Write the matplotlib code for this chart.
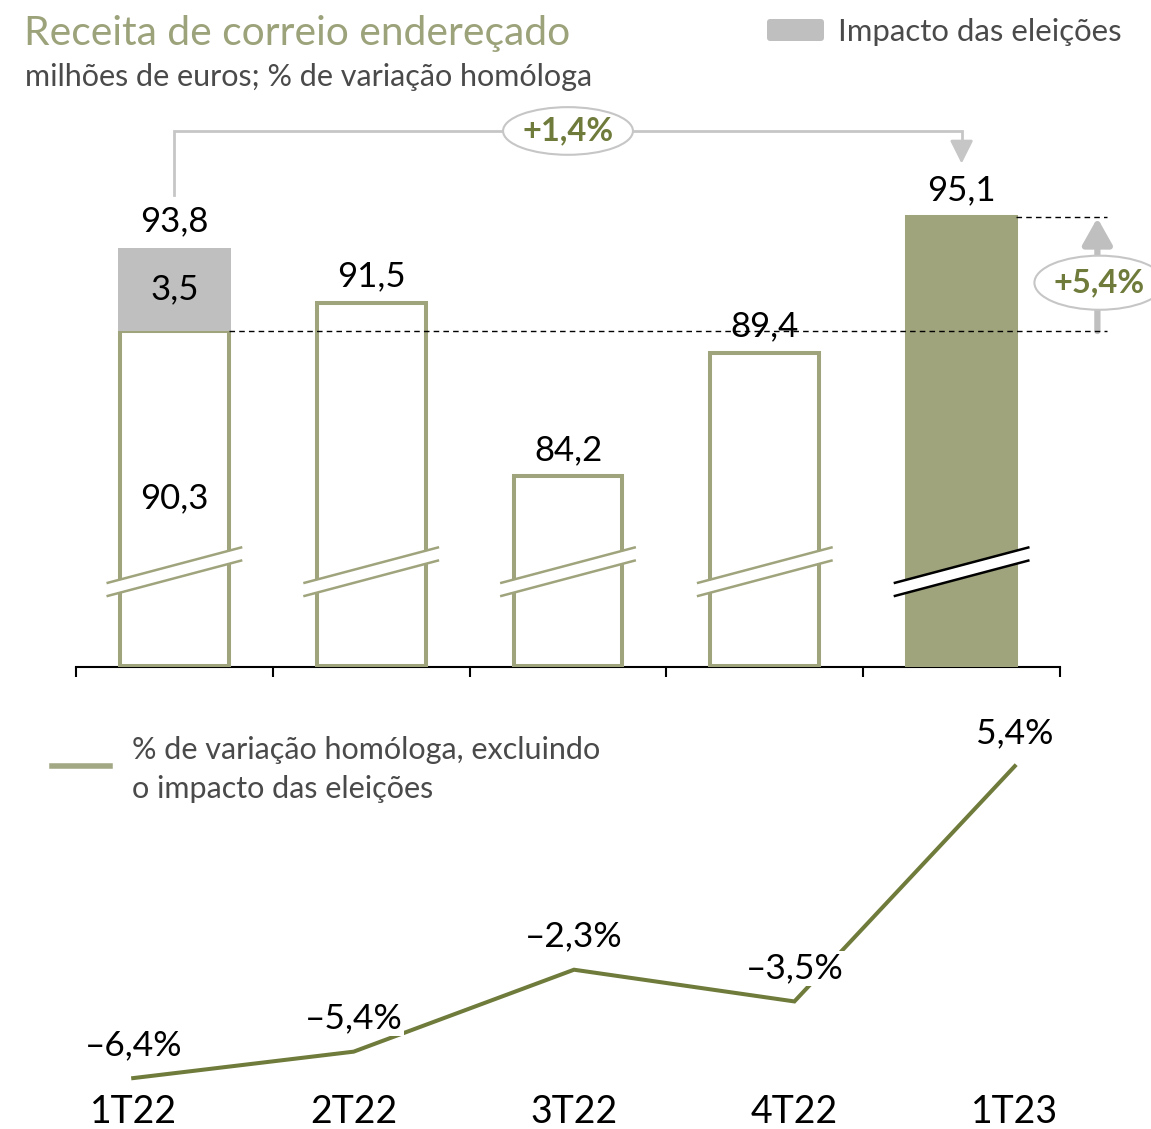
import matplotlib.pyplot as plt
import matplotlib.patches as mpatches
from matplotlib.lines import Line2D
import numpy as np

# --- Data ---
QUARTERS = ['1T22', '2T22', '3T22', '4T22', '1T23']
REVENUE = [93.8, 91.5, 84.2, 89.4, 95.1]          # milhões de euros
ELECTION_IMPACT = [3.5, 0.0, 0.0, 0.0, 0.0]       # impacto das eleições
YOY_EXCL_ELECTIONS = [-6.4, -5.4, -2.3, -3.5, 5.4]  # % variação homóloga
TOTAL_GROWTH = '+1,4%'
EXCL_GROWTH = '+5,4%'

# --- Style ---
OLIVE = '#A0A47C'
OLIVE_DARK = '#6E7B3B'
TITLE_COLOR = '#9CA27A'
GRAY = '#BFBFBF'
GRAY_LINE = '#C6C6C6'
TEXT_GRAY = '#4A4A4A'
LEGEND_LINE = '#A3A884'

W, H = 1151, 1129


def fx(px):
    return px / W


def fy(py):
    return 1 - py / H


def fmt(v, pct=False):
    s = f"{abs(v):.1f}".replace('.', ',')
    if v < 0:
        s = '\u2013' + s
    return s + ('%' if pct else '')


plt.rcParams['font.family'] = ['Lato', 'DejaVu Sans']

fig = plt.figure(figsize=(W / 100, H / 100), dpi=100)

# --- Header ---
fig.text(fx(24), fy(45), 'Receita de correio endereçado', fontsize=29.3,
         color=TITLE_COLOR, va='baseline', ha='left')
fig.text(fx(25), fy(86), 'milhões de euros; % de variação homóloga',
         fontsize=22, color=TEXT_GRAY, va='baseline', ha='left')
fig.patches.append(mpatches.FancyBboxPatch(
    (fx(767), fy(41)), fx(824) - fx(767), fy(19) - fy(41),
    boxstyle='round,pad=0,rounding_size=0.003', transform=fig.transFigure,
    facecolor=GRAY, edgecolor='none'))
fig.text(fx(838), fy(32), 'Impacto das eleições', fontsize=22.4,
         color=TEXT_GRAY, va='center', ha='left')

# --- Top panel: bars (truncated axis) ---
Y_BASE = 76.2
BAR_W = 0.553
ax = fig.add_axes([fx(76), fy(667), fx(1060) - fx(76), fy(100) - fy(667)])
ax.set_xlim(-0.5, 4.5)
ax.set_ylim(Y_BASE, 100.0)
x = np.arange(len(QUARTERS))
core = np.array(REVENUE) - np.array(ELECTION_IMPACT)
faces = ['white'] * (len(x) - 1) + [OLIVE]
ax.bar(x, core - Y_BASE - 0.06, bottom=Y_BASE + 0.06, width=BAR_W,
       color=faces, edgecolor=OLIVE, linewidth=2.9, zorder=6)
imp = np.array(ELECTION_IMPACT)
ax.bar(x[imp > 0], imp[imp > 0], bottom=core[imp > 0], width=BAR_W + 0.02,
       color=GRAY, linewidth=0, zorder=6)

# break marks
for i in x:
    xs = np.array([i - 0.345, i + 0.345])
    y_hi = np.array([79.72, 81.23])
    y_lo = y_hi - 0.55
    ax.fill_between(xs, y_lo, y_hi, color='white', zorder=7, linewidth=0)
    c = 'black' if faces[i] != 'white' else OLIVE
    ax.plot(xs, y_hi, color=c, lw=1.8, zorder=8, solid_capstyle='butt')
    ax.plot(xs, y_lo, color=c, lw=1.8, zorder=8, solid_capstyle='butt')

# value labels
for i, v in enumerate(REVENUE):
    ax.annotate(fmt(v), (i, v), xytext=(0, 19), textcoords='offset points',
                ha='center', va='center', fontsize=25, color='black')
for i in x[imp > 0]:
    ax.text(i, core[i] + imp[i] / 2, fmt(imp[i]), ha='center', va='center',
            fontsize=25, color='black', zorder=9)
    ax.text(i, 83.3, fmt(core[i]), ha='center', va='center',
            fontsize=25, color='black', zorder=9)

# bracket arrow 1T22 -> 1T23
y_br = 98.7
ax.plot([0, 0, 4, 4], [96.0, y_br, y_br, 97.9], color=GRAY_LINE, lw=2,
        zorder=1, clip_on=False, solid_joinstyle='miter')
ax.annotate('', xy=(4, 97.33), xytext=(4, 98.0),
            arrowprops=dict(arrowstyle='-|>,head_width=0.35,head_length=0.7',
                            color=GRAY_LINE, lw=2, mutation_scale=20,
                            shrinkA=0, shrinkB=0))
ax.add_patch(mpatches.Ellipse((2.0, y_br), 0.66, 2.0, facecolor='white',
                              edgecolor=GRAY_LINE, lw=1.5, zorder=5,
                              clip_on=False))
ax.text(2.0, y_br, TOTAL_GROWTH, ha='center', va='center', fontsize=23.5,
        fontweight='bold', color=OLIVE_DARK, zorder=6)

# right-hand comparison
x_right = 4.74
ax.plot([4 + BAR_W / 2, x_right], [REVENUE[4]] * 2, color='black', lw=1,
        dashes=(4, 3), zorder=10, clip_on=False)
ax.plot([0 + BAR_W / 2, x_right], [core[0]] * 2, color='black', lw=1,
        dashes=(4, 3), zorder=10, clip_on=False)
ax.annotate('', xy=(4.69, REVENUE[4] - 0.05), xytext=(4.69, core[0]),
            arrowprops=dict(arrowstyle='-|>,head_width=0.45,head_length=0.8',
                            color=GRAY, lw=4.5, mutation_scale=20,
                            shrinkA=0, shrinkB=0), annotation_clip=False)
ax.add_patch(mpatches.Ellipse((4.70, 92.33), 0.66, 2.27, facecolor='white',
                              edgecolor=GRAY_LINE, lw=1.5, zorder=11,
                              clip_on=False))
ax.text(4.70, 92.33, EXCL_GROWTH, ha='center', va='center', fontsize=23.5,
        fontweight='bold', color=OLIVE_DARK, zorder=12, clip_on=False)

for s in ['top', 'right', 'left']:
    ax.spines[s].set_visible(False)
ax.spines['bottom'].set_linewidth(1.5)
ax.spines['bottom'].set_zorder(5)
ax.set_yticks([])
ax.set_xticks(np.arange(-0.5, 4.6, 1.0))
ax.set_xticklabels([])
ax.tick_params(axis='x', direction='out', length=7, width=1.5)

# --- Bottom panel: % change line ---
ax2 = fig.add_axes([fx(23), fy(1090), fx(1125) - fx(23), fy(690) - fy(1090)])
ax2.set_xlim(-0.5, 4.5)
ax2.set_ylim(-6.85, 8.28)
ax2.plot(x, YOY_EXCL_ELECTIONS, color=OLIVE_DARK, lw=2.9, zorder=2,
         solid_joinstyle='miter')
for i, v in enumerate(YOY_EXCL_ELECTIONS):
    ax2.annotate(fmt(v, pct=True), (i, v), xytext=(0, 24),
                 textcoords='offset points', ha='center', va='center',
                 fontsize=25.5, color='black', zorder=4,
                 bbox=dict(facecolor='white', edgecolor='none', pad=1))
ax2.set_xticks(x)
ax2.set_xticklabels(QUARTERS, fontsize=27)
ax2.tick_params(axis='x', length=0, pad=3)
ax2.set_yticks([])
for s in ax2.spines.values():
    s.set_visible(False)

# legend for the line
fig.add_artist(Line2D([fx(52), fx(110)], [fy(766), fy(766)],
                      color=LEGEND_LINE, lw=4, transform=fig.transFigure))
fig.text(fx(132), fy(750), '% de variação homóloga, excluindo', fontsize=22,
         color=TEXT_GRAY, va='center', ha='left')
fig.text(fx(132), fy(789), 'o impacto das eleições', fontsize=22,
         color=TEXT_GRAY, va='center', ha='left')

fig.savefig('out.png', dpi=100)
